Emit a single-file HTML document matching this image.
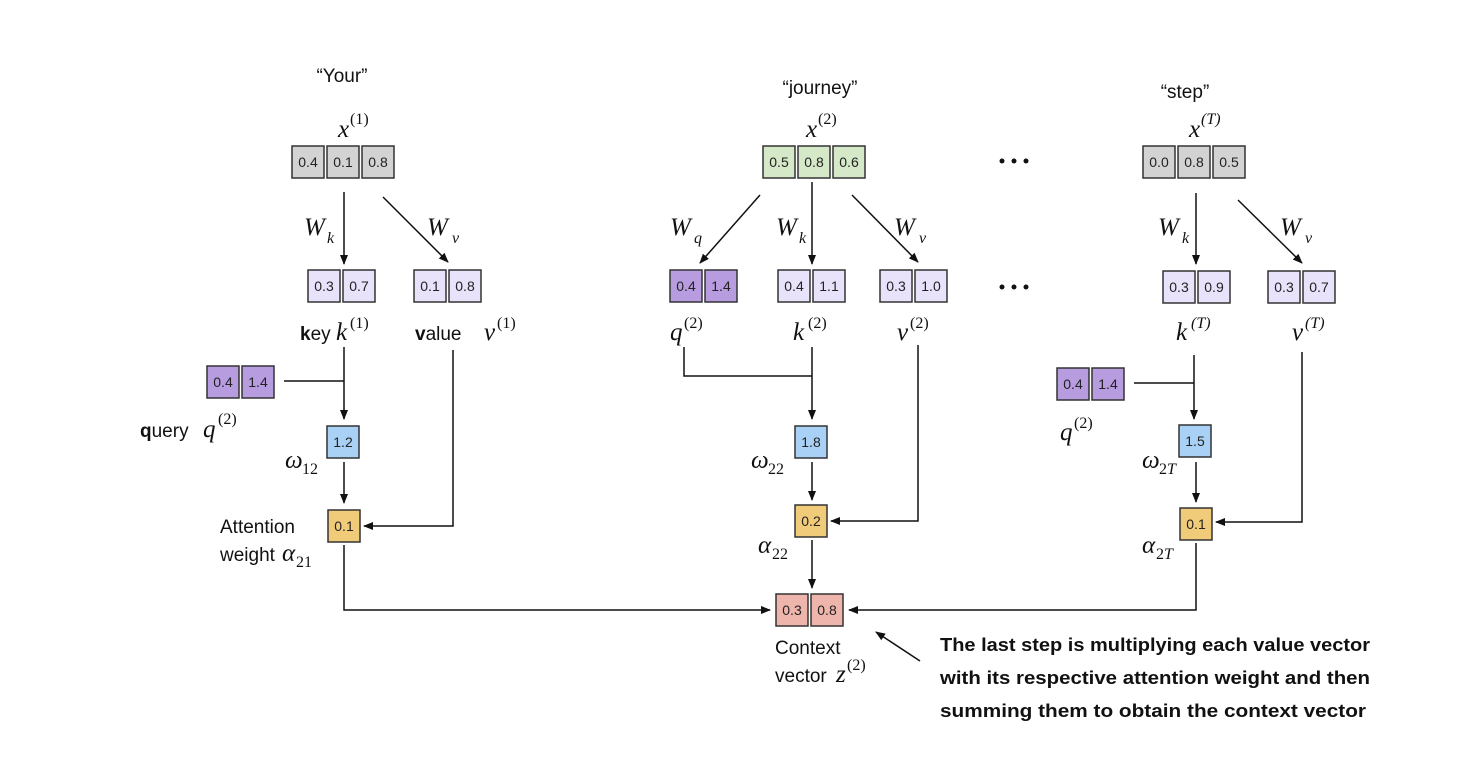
<!DOCTYPE html>
<html><head><meta charset="utf-8"><style>
html,body{margin:0;padding:0;background:#fff;}
svg{display:block;}
.c{stroke:#333;stroke-width:1.5;}
.n{font-family:"Liberation Sans",sans-serif;font-size:14px;fill:#222;text-anchor:middle;}
.m{font-family:"Liberation Serif",serif;font-style:italic;font-size:25px;fill:#111;}
.s{font-family:"Liberation Serif",serif;font-size:16px;fill:#111;}
.si{font-family:"Liberation Serif",serif;font-style:italic;font-size:16px;fill:#111;}
.t{font-family:"Liberation Sans",sans-serif;font-size:19px;fill:#111;}
.l{stroke:#111;stroke-width:1.5;fill:none;}
.b{font-family:"Liberation Sans Narrow","Liberation Sans",sans-serif;font-weight:bold;font-size:18px;fill:#111;}
</style></head><body>
<svg width="1482" height="766" viewBox="0 0 1482 766" xmlns="http://www.w3.org/2000/svg">
<defs><marker id="a" markerWidth="10" markerHeight="10" refX="9" refY="5" orient="auto" markerUnits="userSpaceOnUse"><path d="M0,1 L10,5 L0,9 Z" fill="#111"/></marker></defs>

<!-- Column 1 -->
<text x="342" y="82" class="t" text-anchor="middle">“Your”</text>
<text x="338" y="137" class="m">x</text><text x="350" y="124" class="s">(1)</text>
<g class="c"><rect x="292" y="146" width="32" height="32" fill="#d3d3d3"/><rect x="327" y="146" width="32" height="32" fill="#d3d3d3"/><rect x="362" y="146" width="32" height="32" fill="#d3d3d3"/></g>
<text x="308" y="167" class="n">0.4</text><text x="343" y="167" class="n">0.1</text><text x="378" y="167" class="n">0.8</text>
<line x1="344" y1="192" x2="344" y2="264" class="l" marker-end="url(#a)"/>
<line x1="383" y1="197" x2="448" y2="262" class="l" marker-end="url(#a)"/>
<text x="304" y="235" class="m">W</text><text x="327" y="243" class="si">k</text>
<text x="427" y="235" class="m">W</text><text x="452" y="243" class="si">v</text>
<g class="c"><rect x="308" y="270" width="32" height="32" fill="#e8e3fa"/><rect x="343" y="270" width="32" height="32" fill="#e8e3fa"/><rect x="414" y="270" width="32" height="32" fill="#e8e3fa"/><rect x="449" y="270" width="32" height="32" fill="#e8e3fa"/></g>
<text x="324" y="291" class="n">0.3</text><text x="359" y="291" class="n">0.7</text><text x="430" y="291" class="n">0.1</text><text x="465" y="291" class="n">0.8</text>
<text x="300" y="340" class="t"><tspan font-weight="bold">k</tspan>ey</text><text x="336" y="340" class="m">k</text><text x="350" y="328" class="s">(1)</text>
<text x="415" y="340" class="t"><tspan font-weight="bold">v</tspan>alue</text><text x="484" y="340" class="m">v</text><text x="497" y="328" class="s">(1)</text>
<g class="c"><rect x="207" y="366" width="32" height="32" fill="#b89ce0"/><rect x="242" y="366" width="32" height="32" fill="#b89ce0"/></g>
<text x="223" y="387" class="n">0.4</text><text x="258" y="387" class="n">1.4</text>
<line x1="284" y1="381" x2="344" y2="381" class="l"/>
<line x1="344" y1="347" x2="344" y2="419" class="l" marker-end="url(#a)"/>
<text x="140" y="437" class="t"><tspan font-weight="bold">q</tspan>uery</text><text x="203" y="437" class="m">q</text><text x="218" y="424" class="s">(2)</text>
<rect x="327" y="426" width="32" height="32" fill="#a9d1f5" class="c"/><text x="343" y="447" class="n">1.2</text>
<text x="285" y="468" class="m">ω</text><text x="302" y="474" class="s">12</text>
<line x1="344" y1="462" x2="344" y2="503" class="l" marker-end="url(#a)"/>
<rect x="328" y="510" width="32" height="32" fill="#f0cc7a" class="c"/><text x="344" y="531" class="n">0.1</text>
<polyline points="453,350 453,526 364,526" class="l" marker-end="url(#a)"/>
<text x="220" y="533" class="t">Attention</text>
<text x="220" y="561" class="t">weight</text><text x="282" y="561" class="m" font-size="22">α</text><text x="296" y="567" class="s">21</text>
<polyline points="344,545 344,610 770,610" class="l" marker-end="url(#a)"/>

<!-- Column 2 -->
<text x="820" y="94" class="t" text-anchor="middle">“journey”</text>
<text x="806" y="137" class="m">x</text><text x="818" y="124" class="s">(2)</text>
<g class="c"><rect x="763" y="146" width="32" height="32" fill="#d5e8c8"/><rect x="798" y="146" width="32" height="32" fill="#d5e8c8"/><rect x="833" y="146" width="32" height="32" fill="#d5e8c8"/></g>
<text x="779" y="167" class="n">0.5</text><text x="814" y="167" class="n">0.8</text><text x="849" y="167" class="n">0.6</text>
<line x1="812" y1="182" x2="812" y2="264" class="l" marker-end="url(#a)"/>
<line x1="760" y1="195" x2="700" y2="263" class="l" marker-end="url(#a)"/>
<line x1="852" y1="195" x2="918" y2="262" class="l" marker-end="url(#a)"/>
<text x="670" y="235" class="m">W</text><text x="694" y="243" class="si">q</text>
<text x="776" y="235" class="m">W</text><text x="799" y="243" class="si">k</text>
<text x="894" y="235" class="m">W</text><text x="919" y="243" class="si">v</text>
<g class="c"><rect x="670" y="270" width="32" height="32" fill="#b89ce0"/><rect x="705" y="270" width="32" height="32" fill="#b89ce0"/><rect x="778" y="270" width="32" height="32" fill="#e8e3fa"/><rect x="813" y="270" width="32" height="32" fill="#e8e3fa"/><rect x="880" y="270" width="32" height="32" fill="#e8e3fa"/><rect x="915" y="270" width="32" height="32" fill="#e8e3fa"/></g>
<text x="686" y="291" class="n">0.4</text><text x="721" y="291" class="n">1.4</text><text x="794" y="291" class="n">0.4</text><text x="829" y="291" class="n">1.1</text><text x="896" y="291" class="n">0.3</text><text x="931" y="291" class="n">1.0</text>
<text x="670" y="340" class="m">q</text><text x="684" y="328" class="s">(2)</text>
<text x="793" y="340" class="m">k</text><text x="808" y="328" class="s">(2)</text>
<text x="897" y="340" class="m">v</text><text x="910" y="328" class="s">(2)</text>
<polyline points="684,347 684,376 812,376" class="l"/>
<line x1="812" y1="347" x2="812" y2="419" class="l" marker-end="url(#a)"/>
<rect x="795" y="426" width="32" height="32" fill="#a9d1f5" class="c"/><text x="811" y="447" class="n">1.8</text>
<text x="751" y="468" class="m">ω</text><text x="768" y="474" class="s">22</text>
<line x1="812" y1="462" x2="812" y2="500" class="l" marker-end="url(#a)"/>
<rect x="795" y="505" width="32" height="32" fill="#f0cc7a" class="c"/><text x="811" y="526" class="n">0.2</text>
<polyline points="918,345 918,521 831,521" class="l" marker-end="url(#a)"/>
<text x="758" y="553" class="m" font-size="22">α</text><text x="772" y="559" class="s">22</text>
<line x1="812" y1="540" x2="812" y2="588" class="l" marker-end="url(#a)"/>
<g class="c"><rect x="776" y="594" width="32" height="32" fill="#eeb5ac"/><rect x="811" y="594" width="32" height="32" fill="#eeb5ac"/></g>
<text x="792" y="615" class="n">0.3</text><text x="827" y="615" class="n">0.8</text>
<text x="775" y="654" class="t">Context</text>
<text x="775" y="682" class="t">vector</text><text x="836" y="682" class="m" font-size="22">z</text><text x="847" y="670" class="s">(2)</text>
<line x1="920" y1="661" x2="876" y2="632" class="l" stroke-width="2" marker-end="url(#a)"/>

<!-- dots -->
<g fill="#111"><circle cx="1002" cy="161" r="2.5"/><circle cx="1014" cy="161" r="2.5"/><circle cx="1026" cy="161" r="2.5"/>
<circle cx="1002" cy="287" r="2.5"/><circle cx="1014" cy="287" r="2.5"/><circle cx="1026" cy="287" r="2.5"/></g>

<!-- Column 3 -->
<text x="1185" y="98" class="t" text-anchor="middle">“step”</text>
<text x="1189" y="137" class="m">x</text><text x="1201" y="124" class="si">(T)</text>
<g class="c"><rect x="1143" y="146" width="32" height="32" fill="#d3d3d3"/><rect x="1178" y="146" width="32" height="32" fill="#d3d3d3"/><rect x="1213" y="146" width="32" height="32" fill="#d3d3d3"/></g>
<text x="1159" y="167" class="n">0.0</text><text x="1194" y="167" class="n">0.8</text><text x="1229" y="167" class="n">0.5</text>
<line x1="1196" y1="193" x2="1196" y2="264" class="l" marker-end="url(#a)"/>
<line x1="1238" y1="200" x2="1302" y2="263" class="l" marker-end="url(#a)"/>
<text x="1158" y="235" class="m">W</text><text x="1182" y="243" class="si">k</text>
<text x="1280" y="235" class="m">W</text><text x="1305" y="243" class="si">v</text>
<g class="c"><rect x="1163" y="271" width="32" height="32" fill="#e8e3fa"/><rect x="1198" y="271" width="32" height="32" fill="#e8e3fa"/><rect x="1268" y="271" width="32" height="32" fill="#e8e3fa"/><rect x="1303" y="271" width="32" height="32" fill="#e8e3fa"/></g>
<text x="1179" y="292" class="n">0.3</text><text x="1214" y="292" class="n">0.9</text><text x="1284" y="292" class="n">0.3</text><text x="1319" y="292" class="n">0.7</text>
<text x="1176" y="340" class="m">k</text><text x="1191" y="328" class="si">(T)</text>
<text x="1292" y="340" class="m">v</text><text x="1305" y="328" class="si">(T)</text>
<g class="c"><rect x="1057" y="368" width="32" height="32" fill="#b89ce0"/><rect x="1092" y="368" width="32" height="32" fill="#b89ce0"/></g>
<text x="1073" y="389" class="n">0.4</text><text x="1108" y="389" class="n">1.4</text>
<line x1="1134" y1="383" x2="1194" y2="383" class="l"/>
<line x1="1194" y1="355" x2="1194" y2="419" class="l" marker-end="url(#a)"/>
<text x="1060" y="440" class="m">q</text><text x="1074" y="428" class="s">(2)</text>
<rect x="1179" y="425" width="32" height="32" fill="#a9d1f5" class="c"/><text x="1195" y="446" class="n">1.5</text>
<text x="1142" y="468" class="m">ω</text><text x="1159" y="474" class="s">2<tspan font-style="italic">T</tspan></text>
<line x1="1196" y1="462" x2="1196" y2="502" class="l" marker-end="url(#a)"/>
<rect x="1180" y="508" width="32" height="32" fill="#f0cc7a" class="c"/><text x="1196" y="529" class="n">0.1</text>
<polyline points="1302,352 1302,522 1216,522" class="l" marker-end="url(#a)"/>
<text x="1142" y="553" class="m" font-size="22">α</text><text x="1156" y="559" class="s">2<tspan font-style="italic">T</tspan></text>
<polyline points="1196,543 1196,610 849,610" class="l" marker-end="url(#a)"/>

<!-- Bold note -->
<text x="940" y="651" class="b" textLength="430" lengthAdjust="spacingAndGlyphs">The last step is multiplying each value vector</text>
<text x="940" y="684" class="b" textLength="430" lengthAdjust="spacingAndGlyphs">with its respective attention weight and then</text>
<text x="940" y="717" class="b" textLength="426" lengthAdjust="spacingAndGlyphs">summing them to obtain the context vector</text>
</svg>
</body></html>
